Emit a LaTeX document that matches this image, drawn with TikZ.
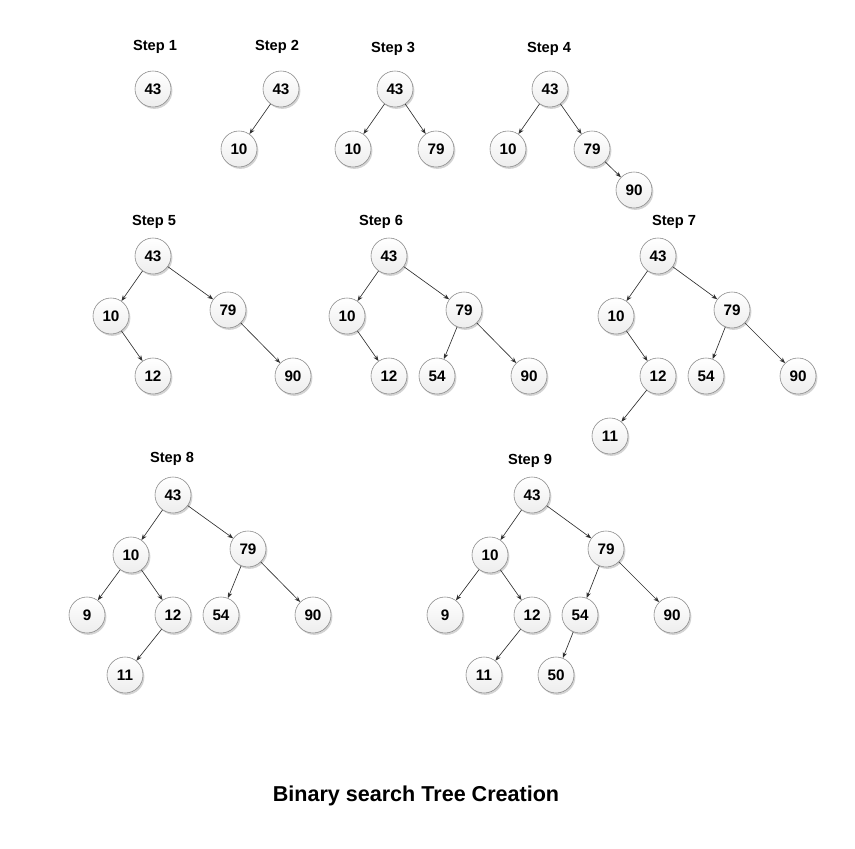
\documentclass[tikz,border=0pt]{standalone}
\usepackage{fontspec}
\setmainfont{Liberation Sans}
\usepackage{xcolor}
\usetikzlibrary{arrows.meta,shadows}
\definecolor{ringc}{HTML}{8A8A8A}
\definecolor{edgec}{HTML}{2E2E2E}
\tikzset{
  keynode/.style={circle, draw=ringc, line width=0.5pt, top color=white, bottom color=black!7,
    minimum size=1.08cm, inner sep=0pt, font=\bfseries\fontsize{13}{13}\selectfont,
    drop shadow={shadow xshift=1.2pt, shadow yshift=-1.6pt, opacity=0.35}},
  steplabel/.style={font=\bfseries\fontsize{12.5}{13}\selectfont},
  titlelabel/.style={font=\bfseries\fontsize{18.4}{19}\selectfont},
  treeedge/.style={-{Stealth[length=1.7mm, width=1.3mm]}, draw=edgec, line width=0.55pt},
}

\begin{document}
\begin{tikzpicture}[x=0.03cm, y=-0.03cm]
  \useasboundingbox (0,0) rectangle (855,849);
  % step 1
  \node[steplabel] (l1) at (155,47) {Step 1};
  \node[keynode] (a43) at (153,89) {43};
  % step 2
  \node[steplabel] (l2) at (277,47) {Step 2};
  \node[keynode] (b43) at (281,89) {43};
  \node[keynode] (b10) at (239,149) {10};
  \draw[treeedge] (b43) -- (b10);
  % step 3
  \node[steplabel] (l3) at (393,49) {Step 3};
  \node[keynode] (c43) at (395,89) {43};
  \node[keynode] (c10) at (353,149) {10};
  \node[keynode] (c79) at (436,149) {79};
  \draw[treeedge] (c43) -- (c10);
  \draw[treeedge] (c43) -- (c79);
  % step 4
  \node[steplabel] (l4) at (549,49) {Step 4};
  \node[keynode] (d43) at (550,89) {43};
  \node[keynode] (d10) at (508,149) {10};
  \node[keynode] (d79) at (592,149) {79};
  \node[keynode] (d90) at (634,190) {90};
  \draw[treeedge] (d43) -- (d10);
  \draw[treeedge] (d43) -- (d79);
  \draw[treeedge] (d79) -- (d90);
  % step 5
  \node[steplabel] (l5) at (154,222) {Step 5};
  \node[keynode] (e43) at (153,256) {43};
  \node[keynode] (e10) at (111,316) {10};
  \node[keynode] (e79) at (228,310) {79};
  \node[keynode] (e12) at (153,376) {12};
  \node[keynode] (e90) at (293,376) {90};
  \draw[treeedge] (e43) -- (e10);
  \draw[treeedge] (e43) -- (e79);
  \draw[treeedge] (e10) -- (e12);
  \draw[treeedge] (e79) -- (e90);
  % step 6
  \node[steplabel] (l6) at (381,222) {Step 6};
  \node[keynode] (f43) at (389,256) {43};
  \node[keynode] (f10) at (347,316) {10};
  \node[keynode] (f79) at (464,310) {79};
  \node[keynode] (f12) at (389,376) {12};
  \node[keynode] (f54) at (437,376) {54};
  \node[keynode] (f90) at (529,376) {90};
  \draw[treeedge] (f43) -- (f10);
  \draw[treeedge] (f43) -- (f79);
  \draw[treeedge] (f10) -- (f12);
  \draw[treeedge] (f79) -- (f54);
  \draw[treeedge] (f79) -- (f90);
  % step 7
  \node[steplabel] (l7) at (674,222) {Step 7};
  \node[keynode] (g43) at (658,256) {43};
  \node[keynode] (g10) at (616,316) {10};
  \node[keynode] (g79) at (732,310) {79};
  \node[keynode] (g12) at (658,376) {12};
  \node[keynode] (g54) at (706,376) {54};
  \node[keynode] (g90) at (798,376) {90};
  \node[keynode] (g11) at (610,436) {11};
  \draw[treeedge] (g43) -- (g10);
  \draw[treeedge] (g43) -- (g79);
  \draw[treeedge] (g10) -- (g12);
  \draw[treeedge] (g79) -- (g54);
  \draw[treeedge] (g79) -- (g90);
  \draw[treeedge] (g12) -- (g11);
  % step 8
  \node[steplabel] (l8) at (172,459) {Step 8};
  \node[keynode] (h43) at (173,495) {43};
  \node[keynode] (h10) at (131,555) {10};
  \node[keynode] (h79) at (248,549) {79};
  \node[keynode] (h9) at (87,615) {9};
  \node[keynode] (h12) at (173,615) {12};
  \node[keynode] (h54) at (221,615) {54};
  \node[keynode] (h90) at (313,615) {90};
  \node[keynode] (h11) at (125,675) {11};
  \draw[treeedge] (h43) -- (h10);
  \draw[treeedge] (h43) -- (h79);
  \draw[treeedge] (h10) -- (h9);
  \draw[treeedge] (h10) -- (h12);
  \draw[treeedge] (h79) -- (h54);
  \draw[treeedge] (h79) -- (h90);
  \draw[treeedge] (h12) -- (h11);
  % step 9
  \node[steplabel] (l9) at (530,461) {Step 9};
  \node[keynode] (i43) at (532,495) {43};
  \node[keynode] (i10) at (490,555) {10};
  \node[keynode] (i79) at (606,549) {79};
  \node[keynode] (i9) at (445,615) {9};
  \node[keynode] (i12) at (532,615) {12};
  \node[keynode] (i54) at (580,615) {54};
  \node[keynode] (i90) at (672,615) {90};
  \node[keynode] (i11) at (484,675) {11};
  \node[keynode] (i50) at (556,675) {50};
  \draw[treeedge] (i43) -- (i10);
  \draw[treeedge] (i43) -- (i79);
  \draw[treeedge] (i10) -- (i9);
  \draw[treeedge] (i10) -- (i12);
  \draw[treeedge] (i79) -- (i54);
  \draw[treeedge] (i79) -- (i90);
  \draw[treeedge] (i12) -- (i11);
  \draw[treeedge] (i54) -- (i50);
  % title
  \node[titlelabel] (title) at (416,796) {Binary search Tree Creation};
\end{tikzpicture}
\end{document}
